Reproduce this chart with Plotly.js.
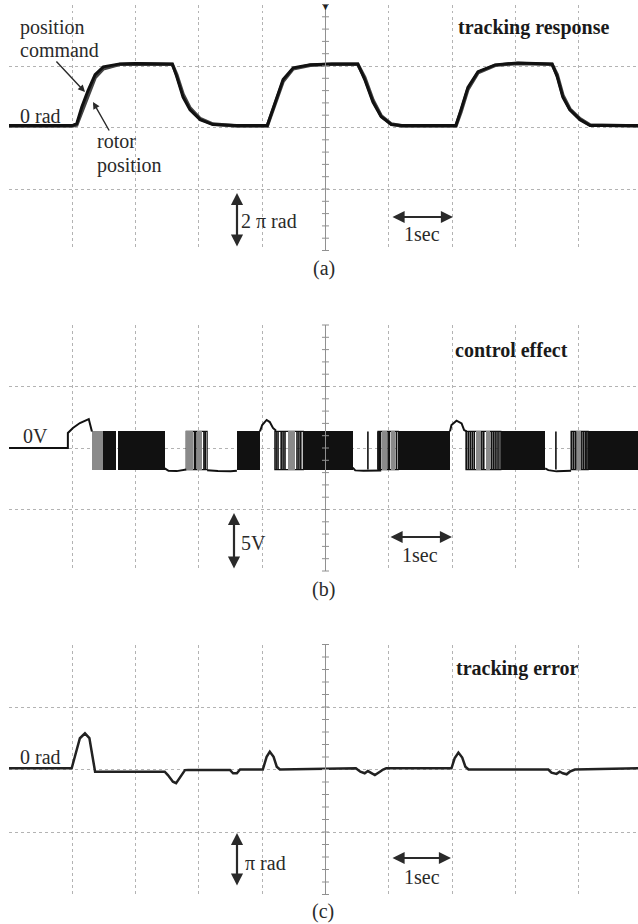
<!DOCTYPE html>
<html>
<head>
<meta charset="utf-8">
<script src="https://cdn.plot.ly/plotly-3.0.1.min.js"></script>
<style>html,body{margin:0;padding:0;background:#fff;}#chart{width:638px;height:924px;}</style>
</head>
<body>
<div id="chart"></div>
<script>
// ---------- data (time in s, 1 div = 1 s) ----------
// (a) tracking response, rad (1 div = 2*pi rad)
const posT = [0,1.0,1.07,1.15,1.25,1.36,1.49,1.75,2.0,2.3,2.58,2.65,2.75,2.86,3.02,3.22,3.6,4.08,4.23,4.33,4.49,4.76,5.1,5.51,5.62,5.75,5.88,6.04,6.21,6.6,7.06,7.14,7.25,7.41,7.68,8.04,8.58,8.66,8.75,8.86,9.02,9.18,9.94];
const posCommand = [0.2,0.2,0.4,2.1,3.8,5.4,6.2,6.5,6.55,6.5,6.5,5.2,3.1,1.8,0.8,0.3,0.2,0.2,3.1,4.9,6.1,6.4,6.5,6.5,4.9,2.6,1.1,0.3,0.2,0.2,0.2,1.8,4.1,5.7,6.4,6.6,6.5,5.2,3.1,1.8,0.8,0.2,0.2];
const rotorPos   = [0.15,0.15,0.25,1.6,3.4,5.1,6.0,6.45,6.5,6.45,6.45,5.4,3.4,2.0,0.9,0.35,0.15,0.15,2.8,4.7,6.0,6.35,6.45,6.45,5.1,2.8,1.2,0.35,0.15,0.15,0.15,1.6,3.9,5.6,6.35,6.55,6.45,5.4,3.3,1.9,0.9,0.25,0.15];

// (b) control effect, V (1 div = 5 V)
const switchLevels = [-1.75, 1.35];           // low / high level of switching
const blackStart = [1.49,1.72,3.60,4.65,6.15,7.77,9.15];
const blackEnd   = [1.69,2.46,3.965,5.43,6.967,8.47,9.94];
const grayStart  = [1.31,2.80,2.97,4.41,5.89,6.03,7.37,7.53,8.96];
const grayEnd    = [1.49,2.90,3.05,4.52,5.97,6.10,7.45,7.60,9.03];
const stripeStart = [2.80,4.20,5.83,7.22,8.88];
const stripeEnd   = [3.13,4.65,6.15,7.77,9.15];
const pulseT = [2.93,2.95,3.08,3.10,
                4.22,4.25,4.30,4.33,4.36,4.55,4.58,4.61,
                5.67,5.83,5.85,5.87,5.99,6.01,6.12,
                7.23,7.26,7.29,7.32,7.35,7.47,7.50,7.62,7.65,7.68,7.71,7.74,
                8.64,8.89,8.92,8.95,9.05,9.08,9.11,9.13];
const ctrlT = [0,0.93,0.93,1.01,1.12,1.23,1.26,1.31,null,
               2.46,2.52,2.65,2.75,2.80,null,
               3.13,3.30,3.50,3.60,null,
               3.965,4.0,4.07,4.12,4.17,4.22,null,
               5.43,5.47,5.60,5.88,null,
               6.967,6.99,7.07,7.15,7.19,7.23,null,
               8.47,8.52,8.65,8.88];
const ctrlU = [0,0,1.22,1.63,2.03,2.3,2.35,1.35,null,
               -1.65,-1.85,-1.88,-1.80,-1.75,null,
               -1.80,-1.88,-1.90,-1.85,null,
               1.35,1.87,2.28,2.11,1.63,1.40,null,
               -1.60,-1.82,-1.85,-1.82,null,
               1.35,1.87,2.22,2.00,1.46,1.35,null,
               -1.65,-1.80,-1.90,-1.85];

// (c) tracking error, rad (1 div = pi rad)
const errT = [0,0.99,1.04,1.12,1.20,1.27,1.32,1.36,1.39,2.46,2.51,2.59,2.64,2.70,2.78,2.83,3.49,3.54,3.60,3.65,4.01,4.07,4.12,4.18,4.23,4.28,5.48,5.55,5.62,5.67,5.72,5.78,5.86,5.91,5.96,6.99,7.04,7.10,7.16,7.21,7.26,8.52,8.57,8.65,8.70,8.75,8.81,8.86,8.94,9.94];
const errV = [0.06,0.06,0.64,1.57,1.82,1.58,0.64,-0.11,-0.11,-0.11,-0.28,-0.61,-0.69,-0.43,-0.03,-0.02,-0.02,-0.19,-0.19,0.0,0.0,0.64,0.89,0.64,0.14,0.0,0.06,-0.11,-0.19,-0.08,-0.16,-0.28,-0.11,0.0,0.06,0.06,0.56,0.85,0.6,0.14,0.0,0.0,-0.16,-0.22,-0.11,-0.19,-0.24,-0.11,0.0,0.06];

// ---------- build ----------
const W = 638, H = 924;
const px = x => x / W, py = y => 1 - y / H;
const PI = Math.PI;

function barsFrom(starts, ends, color, lineColor, lineW) {
  return {
    type: 'bar', xaxis: 'x2', yaxis: 'y2',
    x: starts.map((s, i) => (s + ends[i]) / 2),
    width: starts.map((s, i) => ends[i] - s),
    base: starts.map(() => switchLevels[0]),
    y: starts.map(() => switchLevels[1] - switchLevels[0]),
    marker: {color: color, line: {color: lineColor, width: lineW}},
    hoverinfo: 'skip'
  };
}
const pulseX = [], pulseY = [];
pulseT.forEach(t => { pulseX.push(t, t, null); pulseY.push(switchLevels[0], switchLevels[1], null); });

const traces = [
  {type: 'scatter', mode: 'lines', x: posT, y: rotorPos, xaxis: 'x', yaxis: 'y',
   line: {color: '#444', width: 3.5}, hoverinfo: 'skip'},
  {type: 'scatter', mode: 'lines', x: posT, y: posCommand, xaxis: 'x', yaxis: 'y',
   line: {color: '#111', width: 3}, hoverinfo: 'skip'},
  barsFrom(stripeStart, stripeEnd, 'rgba(0,0,0,0)', '#111', 1.2),
  barsFrom(grayStart, grayEnd, '#8a8a8a', '#8a8a8a', 0),
  barsFrom(blackStart, blackEnd, '#111', '#111', 0),
  {type: 'scatter', mode: 'lines', x: pulseX, y: pulseY, xaxis: 'x2', yaxis: 'y2',
   line: {color: '#111', width: 1.6}, hoverinfo: 'skip'},
  {type: 'scatter', mode: 'lines', x: ctrlT, y: ctrlU, xaxis: 'x2', yaxis: 'y2',
   connectgaps: false, line: {color: '#111', width: 2}, hoverinfo: 'skip'},
  {type: 'scatter', mode: 'lines', x: errT, y: errV, xaxis: 'x3', yaxis: 'y3',
   line: {color: '#222', width: 2.5}, hoverinfo: 'skip'}
];

const gridC = '#b3b3b3';
function xAx(anchor) {
  return {domain: [px(9), 1], range: [0, 9.937], tick0: 0, dtick: 1, anchor: anchor,
    showgrid: true, gridcolor: gridC, griddash: 'dot', gridwidth: 1,
    zeroline: false, showline: false, showticklabels: false, ticks: '', fixedrange: true};
}
function yAx(top, bottom, half, dt, anchor) {
  return {domain: [py(bottom), py(top)], range: [-half, half], tick0: 0, dtick: dt, anchor: anchor,
    showgrid: true, gridcolor: gridC, griddash: 'dot', gridwidth: 1,
    zeroline: false, showline: false, showticklabels: false, ticks: '', fixedrange: true};
}

// oscilloscope centre axis with minor ticks
const shapes = [];
[['x', 'y'], ['x2', 'y2'], ['x3', 'y3']].forEach(([xr, yr]) => {
  shapes.push({type: 'line', xref: xr, yref: yr + ' domain', x0: 5, x1: 5, y0: 0, y1: 1,
    line: {color: '#909090', width: 1}});
  for (let i = 0; i <= 20; i++) {
    shapes.push({type: 'line', xref: xr, xsizemode: 'pixel', xanchor: 5, x0: -3.5, x1: 3.5,
      yref: yr + ' domain', y0: i / 20, y1: i / 20, line: {color: '#909090', width: 1}});
  }
});

const F = 'Liberation Serif';
const txtC = '#2a2a2a';
function label(text, x, y, anchor, bold) {
  return {text: bold ? '<b>' + text + '</b>' : text, xref: 'paper', yref: 'paper',
    x: px(x), y: py(y), xanchor: anchor || 'left', yanchor: 'middle', showarrow: false,
    font: {family: F, size: 20, color: bold ? '#1a1a1a' : txtC}};
}
function arrow(x0, y0, x1, y1, both) {
  return {text: '', xref: 'paper', yref: 'paper', x: px(x1), y: py(y1),
    ax: x0 - x1, ay: y0 - y1, axref: 'pixel', ayref: 'pixel', showarrow: true,
    arrowhead: 2, arrowsize: both ? 1.1 : 1, arrowwidth: both ? 2.2 : 1.4,
    arrowcolor: '#2a2a2a', arrowside: both ? 'end+start' : 'end', standoff: 0, startstandoff: 0};
}

const annotations = [
  {text: '▼', xref: 'paper', yref: 'paper', x: px(325.5), y: 1, xanchor: 'center', yanchor: 'top',
   showarrow: false, font: {size: 9, color: '#222'}},
  // (a)
  label('position', 18, 27), label('command', 18, 50),
  label('0 rad', 18, 116), label('rotor', 95, 141), label('position', 95, 165),
  label('tracking response', 456, 27, 'left', true),
  label('2 π rad', 239, 221), label('1sec', 422, 234, 'center'), label('(a)', 324, 268, 'center'),
  arrow(55, 60, 85, 92, false), arrow(110, 132, 93, 102, false),
  arrow(237, 248, 237, 193, true), arrow(391, 217, 453, 217, true),
  // (b)
  label('control effect', 453, 350, 'left', true),
  label('0V', 21, 436), label('5V', 239, 543), label('1sec', 420, 555, 'center'), label('(b)', 323, 589, 'center'),
  arrow(234, 570, 234, 513, true), arrow(389, 537, 452, 537, true),
  // (c)
  label('tracking error', 454, 668, 'left', true),
  label('0 rad', 18, 757), label('π rad', 243, 863), label('1sec', 422, 877, 'center'), label('(c)', 323, 911, 'center'),
  arrow(237, 887, 237, 833, true), arrow(391, 858, 451, 858, true)
];

const layout = {
  width: W, height: H, margin: {l: 0, r: 0, t: 0, b: 0},
  paper_bgcolor: '#ffffff', plot_bgcolor: 'rgba(0,0,0,0)',
  font: {family: F},
  showlegend: false, hovermode: false, barmode: 'overlay', bargap: 0,
  xaxis: xAx('y'), xaxis2: Object.assign(xAx('y2'), {matches: 'x'}), xaxis3: Object.assign(xAx('y3'), {matches: 'x'}),
  yaxis: yAx(4.5, 250.5, 4 * PI, 2 * PI, 'x'),
  yaxis2: yAx(325, 571, 10, 5, 'x2'),
  yaxis3: yAx(644.5, 894.5, 2 * PI, PI, 'x3'),
  shapes: shapes, annotations: annotations
};

Plotly.newPlot('chart', traces, layout, {staticPlot: true, displayModeBar: false});
</script>
</body>
</html>
